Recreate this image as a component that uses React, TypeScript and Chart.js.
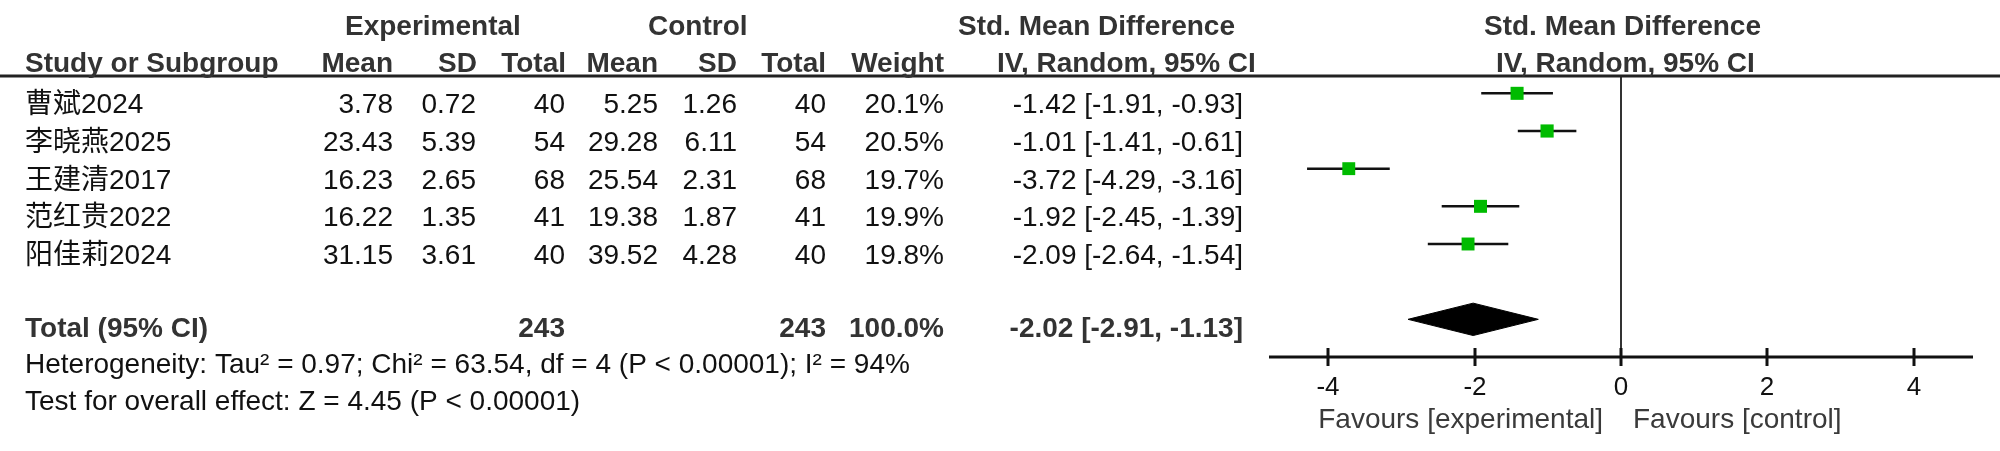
import React, { useEffect, useRef } from 'react';
import { Chart, registerables } from 'chart.js';

Chart.register(...registerables);

// ---------- data ----------
const studies = ['曹斌2024', '李晓燕2025', '王建清2017', '范红贵2022', '阳佳莉2024'];
const expMean = [3.78, 23.43, 16.23, 16.22, 31.15];
const expSD = [0.72, 5.39, 2.65, 1.35, 3.61];
const expN = [40, 54, 68, 41, 40];
const ctlMean = [5.25, 29.28, 25.54, 19.38, 39.52];
const ctlSD = [1.26, 6.11, 2.31, 1.87, 4.28];
const ctlN = [40, 54, 68, 41, 40];
const weights = [20.1, 20.5, 19.7, 19.9, 19.8];
const smd = [-1.42, -1.01, -3.72, -1.92, -2.09];
const ciLow = [-1.91, -1.41, -4.29, -2.45, -2.64];
const ciHigh = [-0.93, -0.61, -3.16, -1.39, -1.54];

const totalExpN = 243;
const totalCtlN = 243;
const totalWeight = 100.0;
const pooled = -2.02;
const pooledLow = -2.91;
const pooledHigh = -1.13;

const heterogeneityText = 'Heterogeneity: Tau² = 0.97; Chi² = 63.54, df = 4 (P < 0.00001); I² = 94%';
const overallText = 'Test for overall effect: Z = 4.45 (P < 0.00001)';

const xTickValues = [-4, -2, 0, 2, 4];
const favoursLeft = 'Favours [experimental]';
const favoursRight = 'Favours [control]';

// ---------- styles ----------
const FONT = '"Liberation Sans", Arial, "Noto Sans CJK SC", sans-serif';
const X_MIN = -4.81;
const X_MAX = 4.81;
const TOTAL_ROW = 6;
const BOX_SIDE = 13;
const DIAMOND_HALF = 0.43;

const fmt2 = (v: number) => v.toFixed(2);
const fmtCI = (e: number, l: number, h: number) => `${fmt2(e)} [${fmt2(l)}, ${fmt2(h)}]`;

const axisPlugin = {
  id: 'forestAxis',
  beforeDatasetsDraw(chart: any) {
    const ctx: CanvasRenderingContext2D = chart.ctx;
    const xs = chart.scales.x;
    const area = chart.chartArea;
    ctx.save();
    // line of no effect
    const zx = Math.round(xs.getPixelForValue(0));
    ctx.strokeStyle = '#333';
    ctx.lineWidth = 2;
    ctx.beginPath();
    ctx.moveTo(zx, area.top);
    ctx.lineTo(zx, area.bottom + 9);
    ctx.stroke();
    ctx.restore();
  },
  afterDraw(chart: any) {
    const ctx: CanvasRenderingContext2D = chart.ctx;
    const xs = chart.scales.x;
    const area = chart.chartArea;
    ctx.save();
    // axis line
    ctx.strokeStyle = '#111';
    ctx.lineWidth = 3;
    ctx.beginPath();
    ctx.moveTo(area.left, area.bottom);
    ctx.lineTo(area.right, area.bottom);
    ctx.stroke();
    // ticks + labels
    ctx.font = `26px ${FONT}`;
    ctx.textAlign = 'center';
    ctx.textBaseline = 'alphabetic';
    ctx.fillStyle = '#111';
    for (const t of xs.ticks) {
      const px = Math.round(xs.getPixelForValue(t.value));
      ctx.beginPath();
      ctx.moveTo(px, area.bottom - 9);
      ctx.lineTo(px, area.bottom + 9);
      ctx.stroke();
      ctx.fillText(String(t.value), px, area.bottom + 38);
    }
    ctx.restore();
  },
};

const tablePlugin = {
  id: 'forestTable',
  afterDraw(chart: any) {
    const ctx: CanvasRenderingContext2D = chart.ctx;
    const xs = chart.scales.x;
    const ys = chart.scales.y;
    const area = chart.chartArea;
    ctx.save();

    // header rule
    ctx.strokeStyle = '#222';
    ctx.lineWidth = 3;
    ctx.beginPath();
    ctx.moveTo(0, area.top);
    ctx.lineTo(chart.width, area.top);
    ctx.stroke();

    const txt = (s: string, x: number, y: number, align: CanvasTextAlign, bold: boolean, color?: string) => {
      ctx.font = `${bold ? 'bold ' : ''}28px ${FONT}`;
      ctx.textAlign = align;
      ctx.textBaseline = 'alphabetic';
      ctx.fillStyle = color || (bold ? '#333' : '#111');
      ctx.fillText(s, x, y);
    };

    // header rows
    const h1 = 35;
    const h2 = 72;
    txt('Experimental', 345, h1, 'left', true);
    txt('Control', 648, h1, 'left', true);
    txt('Std. Mean Difference', 958, h1, 'left', true);
    txt('Std. Mean Difference', 1484, h1, 'left', true);
    txt('Study or Subgroup', 25, h2, 'left', true);
    txt('Mean', 393, h2, 'right', true);
    txt('SD', 477, h2, 'right', true);
    txt('Total', 566, h2, 'right', true);
    txt('Mean', 658, h2, 'right', true);
    txt('SD', 737, h2, 'right', true);
    txt('Total', 826, h2, 'right', true);
    txt('Weight', 944, h2, 'right', true);
    txt('IV, Random, 95% CI', 997, h2, 'left', true);
    txt('IV, Random, 95% CI', 1496, h2, 'left', true);

    // study rows
    studies.forEach((name, i) => {
      const y = ys.getPixelForValue(i) + 20;
      txt(name, 25, y, 'left', false);
      txt(fmt2(expMean[i]), 393, y, 'right', false);
      txt(fmt2(expSD[i]), 476, y, 'right', false);
      txt(String(expN[i]), 565, y, 'right', false);
      txt(fmt2(ctlMean[i]), 658, y, 'right', false);
      txt(fmt2(ctlSD[i]), 737, y, 'right', false);
      txt(String(ctlN[i]), 826, y, 'right', false);
      txt(weights[i].toFixed(1) + '%', 944, y, 'right', false);
      txt(fmtCI(smd[i], ciLow[i], ciHigh[i]), 1243, y, 'right', false);
    });

    // total row
    const ty = ys.getPixelForValue(TOTAL_ROW) + 18;
    txt('Total (95% CI)', 25, ty, 'left', true);
    txt(String(totalExpN), 565, ty, 'right', true);
    txt(String(totalCtlN), 826, ty, 'right', true);
    txt(totalWeight.toFixed(1) + '%', 944, ty, 'right', true);
    txt(fmtCI(pooled, pooledLow, pooledHigh), 1243, ty, 'right', true);

    txt(heterogeneityText, 25, ty + 36, 'left', false);
    txt(overallText, 25, ty + 73, 'left', false);

    // favours labels
    const zx = xs.getPixelForValue(0);
    const fy = area.bottom + 71;
    txt(favoursLeft, zx - 18, fy, 'right', false, '#3a3a3a');
    txt(favoursRight, zx + 12, fy, 'left', false, '#3a3a3a');

    ctx.restore();
  },
};

export default function App() {
  const ref = useRef<HTMLCanvasElement | null>(null);

  useEffect(() => {
    document.body.style.margin = '0';
    const canvas = ref.current;
    if (!canvas) return;

    const ciSets = studies.map((_, i) => ({
      type: 'line' as const,
      data: [
        { x: ciLow[i], y: i },
        { x: ciHigh[i], y: i },
      ],
      borderColor: '#111',
      borderWidth: 2.5,
      pointRadius: 0,
      fill: false,
      order: 2,
    }));

    const diamond = {
      type: 'line' as const,
      data: [
        { x: pooledLow, y: TOTAL_ROW },
        { x: pooled, y: TOTAL_ROW - DIAMOND_HALF },
        { x: pooledHigh, y: TOTAL_ROW },
        { x: pooled, y: TOTAL_ROW + DIAMOND_HALF },
        { x: pooledLow, y: TOTAL_ROW },
      ],
      borderColor: '#000',
      backgroundColor: '#000',
      borderWidth: 1,
      pointRadius: 0,
      fill: 'shape',
      tension: 0,
      order: 1,
    };

    const boxes = {
      type: 'scatter' as const,
      data: studies.map((_, i) => ({ x: smd[i], y: i })),
      pointStyle: 'rect',
      pointRadius: weights.map((w) => (BOX_SIDE * Math.sqrt(w / 20)) / Math.SQRT2),
      backgroundColor: '#00bb00',
      borderWidth: 0,
      order: 0,
    };

    const chart = new Chart(canvas, {
      type: 'scatter',
      data: { datasets: [boxes, diamond, ...ciSets] as any },
      options: {
        animation: false,
        responsive: false,
        devicePixelRatio: 1,
        events: [],
        layout: { padding: { left: 1269, right: 27, top: 76, bottom: 94 } },
        plugins: { legend: { display: false }, tooltip: { enabled: false } },
        scales: {
          x: {
            type: 'linear',
            min: X_MIN,
            max: X_MAX,
            display: false,
            afterBuildTicks: (scale: any) => {
              scale.ticks = xTickValues.map((v) => ({ value: v }));
            },
          },
          y: {
            type: 'linear',
            reverse: true,
            min: -0.46,
            max: 7,
            display: false,
          },
        },
      } as any,
      plugins: [axisPlugin, tablePlugin],
    });

    return () => chart.destroy();
  }, []);

  return <canvas ref={ref} width={2000} height={451} style={{ display: 'block' }} />;
}
